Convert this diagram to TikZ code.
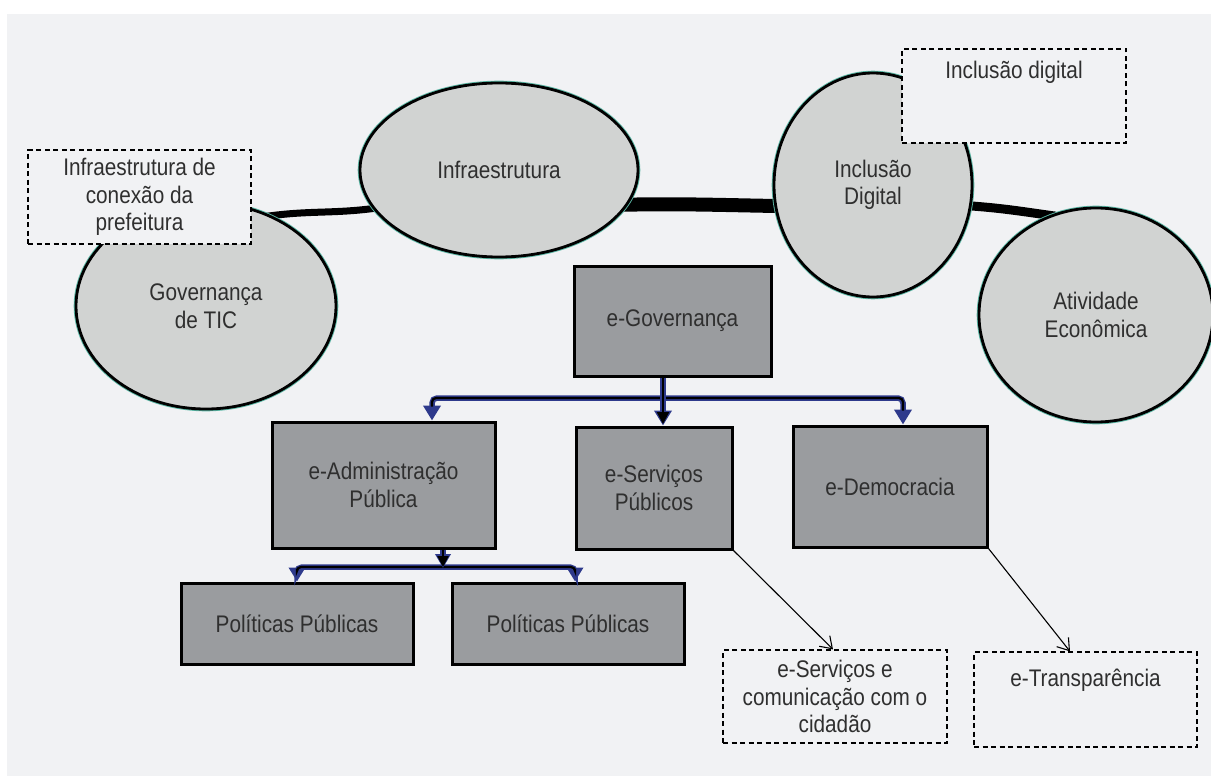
\documentclass[tikz,border=0pt]{standalone}
\usepackage{fontspec}
\setmainfont[FakeStretch=0.865]{Liberation Sans}
\usetikzlibrary{shapes.geometric,arrows.meta,backgrounds}
\definecolor{paper}{HTML}{F1F2F4}
\definecolor{bubblegray}{HTML}{D1D3D2}
\definecolor{boxgray}{HTML}{9A9C9F}
\definecolor{rim}{HTML}{5DB8A6}
\definecolor{navy}{HTML}{2E3A8C}
\definecolor{ink}{HTML}{2F2F2F}
\tikzset{
  bubble/.style={ellipse, draw=black, line width=2.8pt, fill=bubblegray, inner sep=0pt, align=center,
    preaction={draw=rim, line width=4.6pt}},
  unit/.style={rectangle, draw=black, line width=3pt, fill=boxgray, inner sep=0pt, align=center},
  note/.style={rectangle, draw=black, dash pattern=on 5pt off 3.5pt, line width=1.2pt, fill=paper,
    inner sep=0pt, align=center},
  ridge/.style={draw=black, shorten <=-6pt, shorten >=-6pt},
  bus/.style={draw=navy, line width=5.5pt},
  buscore/.style={draw=black, line width=2.2pt},
  pointer/.style={draw=black, line width=1.1pt, -{Straight Barb[length=11pt,width=15pt]}},
}
\begin{document}
\begin{tikzpicture}[x=1pt,y=-1pt,
    every node/.style={text=ink, font=\fontsize{24}{27.5}\selectfont}]
  \useasboundingbox (0,0) rectangle (1211,776);
  % ellipses
  \node[bubble, minimum width=278pt, minimum height=174pt] (infra) at (499,170) {Infraestrutura};
  \node[bubble, minimum width=260pt, minimum height=206pt] (gov) at (206,306) {Governança\\de TIC};
  \node[bubble, minimum width=198pt, minimum height=224pt] (incl) at (873,185) {Inclusão\\Digital};
  \node[bubble, minimum width=234pt, minimum height=214pt] (ativ) at (1096,315) {Atividade\\Econômica};
  % boxes
  \node[unit, minimum width=197pt, minimum height=110pt] (egov) at (672.5,321) {e-Governança};
  \node[unit, minimum width=223pt, minimum height=126pt] (eadm) at (383.5,485) {e-Administração\\Pública};
  \node[unit, minimum width=156pt, minimum height=122pt] (eserv) at (654,488) {e-Serviços\\Públicos};
  \node[unit, minimum width=194pt, minimum height=121pt] (edem) at (890,486.5) {e-Democracia};
  \node[unit, minimum width=232pt, minimum height=81pt] (pol1) at (297,623.5) {Políticas Públicas};
  \node[unit, minimum width=232pt, minimum height=81pt] (pol2) at (568,623.5) {Políticas Públicas};
  % dashed notes
  \node[note, minimum width=223pt, minimum height=94pt] (conn) at (139.5,197)
    {Infraestrutura de\\conexão da\\prefeitura};
  \node[note, minimum width=224pt, text height=30pt, text depth=64pt] (incdig) at (1014,96)
    {Inclusão digital};
  \node[note, minimum width=224pt, minimum height=93pt] (esc) at (835,696.5)
    {e-Serviços e\\comunicação com o\\cidadão};
  \node[note, minimum width=223pt, text height=34pt, text depth=61pt] (etransp) at (1085.5,699.5)
    {e-Transparência};
  % upper tree
  \coordinate (bar) at (663,398);
  \draw[bus, rounded corners=5pt, -{Triangle[width=17pt,length=15pt]}] (bar) -| ([xshift=48.5pt]eadm.north);
  \draw[bus, rounded corners=5pt, -{Triangle[width=17pt,length=15pt]}] (bar) -| ([xshift=13pt]edem.north);
  \draw[buscore, rounded corners=4pt, shorten >=14pt] (bar) -| ([xshift=48.5pt]eadm.north);
  \draw[buscore, rounded corners=4pt, shorten >=14pt] (bar) -| ([xshift=13pt]edem.north);
  \draw[bus, -{Triangle[width=17pt,length=15pt]}] ([xshift=-9.5pt]egov.south) -- ([xshift=9pt]eserv.north);
  \draw[buscore, -{Triangle[width=12pt,length=12pt]}] ([xshift=-9.5pt]egov.south) -- ([xshift=9pt,yshift=1.5pt]eserv.north);
  % lower tree
  \coordinate (split) at (443,567);
  \draw[bus, rounded corners=5pt, -{Triangle[width=16pt,length=14pt]}] (split) -| (pol1.north);
  \draw[bus, rounded corners=5pt, -{Triangle[width=16pt,length=14pt]}] (split) -| ([xshift=7pt]pol2.north);
  \draw[buscore, rounded corners=4pt, shorten >=13pt] (split) -| (pol1.north);
  \draw[buscore, rounded corners=4pt, shorten >=13pt] (split) -| ([xshift=7pt]pol2.north);
  \draw[bus, -{Triangle[width=15pt,length=14pt]}] ([xshift=59.5pt]eadm.south) -- ([yshift=-1pt]split);
  \draw[buscore, -{Triangle[width=11pt,length=11pt]}] ([xshift=59.5pt]eadm.south) -- (split);
  % thin pointers
  \draw[pointer] (eserv.south east) -- ([xshift=-2pt]esc.north);
  \draw[pointer] (edem.south east) -- ([xshift=-15.5pt]etransp.north);
  % ground and ridge
  \begin{scope}[on background layer]
    \fill[paper] (7,14) rectangle (1211,776);
    \draw[ridge, line width=7pt] (gov.54) to[out=8,in=188] (infra.197);
    \draw[ridge, line width=14pt] (infra.-15) to[out=1,in=179] (incl.192);
    \draw[ridge, line width=9pt] (incl.-12) to[out=-4,in=172] (ativ.115);
  \end{scope}
\end{tikzpicture}
\end{document}
